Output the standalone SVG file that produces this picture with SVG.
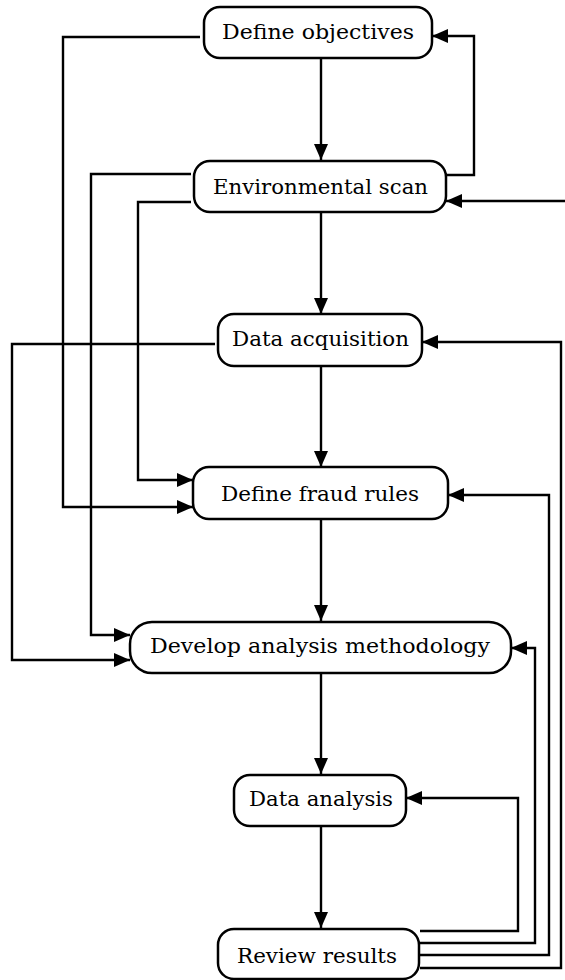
<svg xmlns="http://www.w3.org/2000/svg" width="565" height="980" viewBox="0 0 565 980">
<style>
.box{fill:#fff;stroke:#000;stroke-width:2.5}
.lbl{font-family:"DejaVu Serif","Liberation Serif",serif;font-size:21px;fill:#000;text-anchor:middle}
.con{fill:none;stroke:#000;stroke-width:2.4;marker-end:url(#ah)}
</style>
<defs>
<marker id="ah" markerUnits="userSpaceOnUse" markerWidth="16" markerHeight="14" refX="16" refY="7" orient="auto">
<path d="M0,0 L16,7 L0,14 z" fill="#000"/>
</marker>
</defs>
<rect width="565" height="980" fill="#fff"/>
<g id="connectors">
<path class="con" d="M321,58 V160"/>
<path class="con" d="M446,175 H474 V36 H432"/>
<path class="con" d="M565,201 H446"/>
<path class="con" d="M200,37 H63 V507 H193"/>
<path class="con" d="M191,174 H91 V635 H130"/>
<path class="con" d="M191,202 H138 V480 H193"/>
<path class="con" d="M321,212 V314"/>
<path class="con" d="M215,344 H12 V660 H130"/>
<path class="con" d="M321,366 V467"/>
<path class="con" d="M321,519 V621"/>
<path class="con" d="M321,673 V774"/>
<path class="con" d="M321,826 V928"/>
<path class="con" d="M420,931 H518 V798 H406"/>
<path class="con" d="M420,943 H535 V648 H511"/>
<path class="con" d="M420,955 H549 V495 H448"/>
<path class="con" d="M420,968 H561 V342 H422"/>
</g>
<g id="define-objectives">
<rect class="box" x="204" y="7" width="228" height="51" rx="16"/>
<text class="lbl" x="318" y="39" textLength="192" lengthAdjust="spacingAndGlyphs">Define objectives</text>
</g>
<g id="environmental-scan">
<rect class="box" x="194" y="161" width="252" height="51" rx="16"/>
<text class="lbl" x="320.5" y="194" textLength="215" lengthAdjust="spacingAndGlyphs">Environmental scan</text>
</g>
<g id="data-acquisition">
<rect class="box" x="218" y="314" width="204" height="52" rx="16"/>
<text class="lbl" x="320.5" y="346" textLength="177" lengthAdjust="spacingAndGlyphs">Data acquisition</text>
</g>
<g id="define-fraud-rules">
<rect class="box" x="193" y="467" width="255" height="52" rx="16"/>
<text class="lbl" x="320" y="501" textLength="198" lengthAdjust="spacingAndGlyphs">Define fraud rules</text>
</g>
<g id="develop-analysis-methodology">
<rect class="box" x="130" y="622" width="381" height="51" rx="22"/>
<text class="lbl" x="320" y="653" textLength="340" lengthAdjust="spacingAndGlyphs">Develop analysis methodology</text>
</g>
<g id="data-analysis">
<rect class="box" x="234" y="775" width="172" height="51" rx="16"/>
<text class="lbl" x="321" y="806" textLength="144" lengthAdjust="spacingAndGlyphs">Data analysis</text>
</g>
<g id="review-results">
<rect class="box" x="218" y="929" width="201" height="50" rx="16"/>
<text class="lbl" x="317" y="963" textLength="160" lengthAdjust="spacingAndGlyphs">Review results</text>
</g>
</svg>
